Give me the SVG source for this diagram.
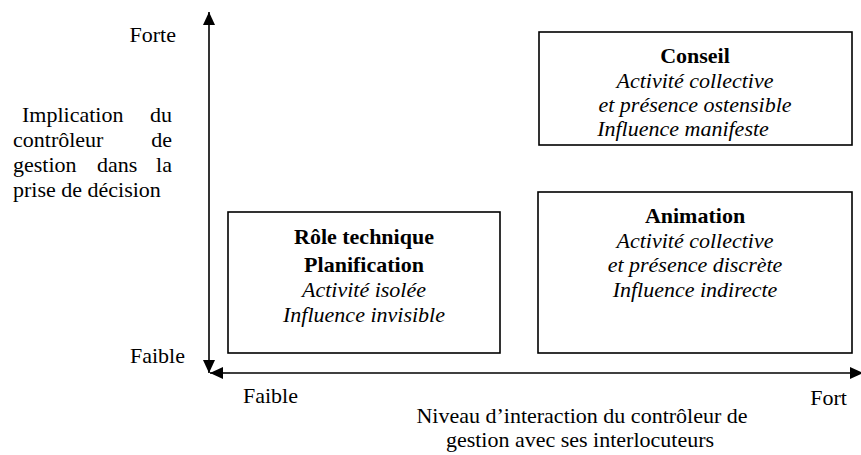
<svg xmlns="http://www.w3.org/2000/svg" width="861" height="455" viewBox="0 0 861 455">
<defs>
<marker id="ah" viewBox="0 0 13 12" refX="13" refY="6" markerWidth="13" markerHeight="12" markerUnits="userSpaceOnUse" orient="auto">
<path d="M0,0 L13,6 L0,12 Z" fill="#000"/>
</marker>
</defs>
<rect width="861" height="455" fill="#fff"/>
<g id="connectors" stroke="#000" stroke-width="1.6" fill="none">
<line x1="209" y1="30" x2="209" y2="12" marker-end="url(#ah)"/>
<line x1="209" y1="30" x2="209" y2="373" marker-end="url(#ah)"/>
<line x1="230" y1="373" x2="210" y2="373" marker-end="url(#ah)"/>
<line x1="230" y1="373" x2="863" y2="373" marker-end="url(#ah)"/>
</g>
<g id="yaxis-labels">
<text font-family="Liberation Serif" font-size="22" text-anchor="end" x="176" y="42">Forte</text>
<text font-family="Liberation Serif" font-size="22" x="22" y="122">Implication</text>
<text font-family="Liberation Serif" font-size="22" text-anchor="end" x="172" y="122">du</text>
<text font-family="Liberation Serif" font-size="22" x="13" y="147">contrôleur</text>
<text font-family="Liberation Serif" font-size="22" text-anchor="end" x="172" y="147">de</text>
<text font-family="Liberation Serif" font-size="22" x="13" y="172">gestion</text>
<text font-family="Liberation Serif" font-size="22" x="97" y="172">dans</text>
<text font-family="Liberation Serif" font-size="22" text-anchor="end" x="172" y="172">la</text>
<text font-family="Liberation Serif" font-size="22" x="13" y="197">prise de décision</text>
<text font-family="Liberation Serif" font-size="22" text-anchor="end" x="185" y="363">Faible</text>
</g>
<g id="xaxis-labels">
<text font-family="Liberation Serif" font-size="22" x="243" y="403">Faible</text>
<text font-family="Liberation Serif" font-size="22" text-anchor="end" x="847" y="405">Fort</text>
<text font-family="Liberation Serif" font-size="22" text-anchor="middle" x="582" y="423">Niveau d’interaction du contrôleur de</text>
<text font-family="Liberation Serif" font-size="22" text-anchor="middle" x="580" y="447">gestion avec ses interlocuteurs</text>
</g>
<g id="conseil">
<rect x="539" y="32" width="313" height="113" fill="#fff" stroke="#000" stroke-width="1.6"/>
<text font-family="Liberation Serif" font-size="22" text-anchor="middle" font-weight="bold" x="695" y="63">Conseil</text>
<text font-family="Liberation Serif" font-size="22" text-anchor="middle" font-style="italic" x="695" y="88">Activité collective</text>
<text font-family="Liberation Serif" font-size="22" text-anchor="middle" font-style="italic" x="695" y="112">et présence ostensible</text>
<text font-family="Liberation Serif" font-size="22" text-anchor="middle" font-style="italic" x="683" y="136">Influence manifeste</text>
</g>
<g id="animation">
<rect x="538" y="192" width="314" height="161" fill="#fff" stroke="#000" stroke-width="1.6"/>
<text font-family="Liberation Serif" font-size="22" text-anchor="middle" font-weight="bold" x="695" y="223">Animation</text>
<text font-family="Liberation Serif" font-size="22" text-anchor="middle" font-style="italic" x="695" y="248">Activité collective</text>
<text font-family="Liberation Serif" font-size="22" text-anchor="middle" font-style="italic" x="695" y="272">et présence discrète</text>
<text font-family="Liberation Serif" font-size="22" text-anchor="middle" font-style="italic" x="695" y="297">Influence indirecte</text>
</g>
<g id="role-technique">
<rect x="228" y="212" width="272" height="141" fill="#fff" stroke="#000" stroke-width="1.6"/>
<text font-family="Liberation Serif" font-size="22" text-anchor="middle" font-weight="bold" x="364" y="244">Rôle technique</text>
<text font-family="Liberation Serif" font-size="22" text-anchor="middle" font-weight="bold" x="364" y="272">Planification</text>
<text font-family="Liberation Serif" font-size="22" text-anchor="middle" font-style="italic" x="364" y="297">Activité isolée</text>
<text font-family="Liberation Serif" font-size="22" text-anchor="middle" font-style="italic" x="364" y="322">Influence invisible</text>
</g>
</svg>
